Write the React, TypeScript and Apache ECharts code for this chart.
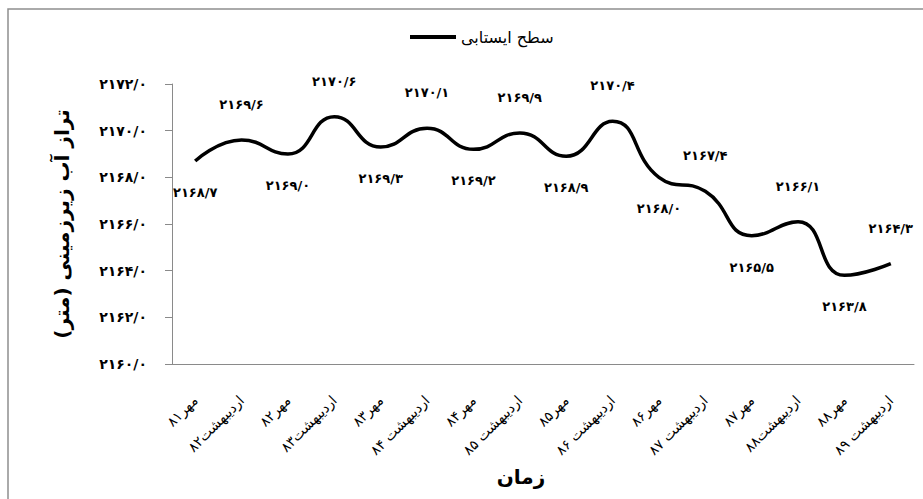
import React, { useEffect, useRef } from "react";
import * as echarts from "echarts";

// Survey dates (Mehr / Ordibehesht campaigns)
const categories = [
  "مهر۸۱",
  "اردیبهشت۸۲",
  "مهر۸۲",
  "اردیبهشت۸۳",
  "مهر۸۳",
  "اردیبهشت ۸۴",
  "مهر۸۴",
  "اردیبهشت ۸۵",
  "مهر۸۵",
  "اردیبهشت ۸۶",
  "مهر۸۶",
  "اردیبهشت ۸۷",
  "مهر۸۷",
  "اردیبهشت۸۸",
  "مهر۸۸",
  "اردیبهشت ۸۹",
];

// Groundwater level (m)
const waterLevel = [
  2168.7, 2169.6, 2169.0, 2170.6, 2169.3, 2170.1, 2169.2, 2169.9, 2168.9,
  2170.4, 2168.0, 2167.4, 2165.5, 2166.1, 2163.8, 2164.3,
];

const seriesName = "سطح ایستابی";
const yAxisTitle = "تراز آب زیرزمینی (متر)";
const xAxisTitle = "زمان";

const yMin = 2160;
const yMax = 2172;
const yStep = 2;

const FA_DIGITS = ["۰", "۱", "۲", "۳", "۴", "۵", "۶", "۷", "۸", "۹"];
const toPersian = (v: number) =>
  v
    .toFixed(1)
    .replace(".", "/")
    .replace(/[0-9]/g, (d) => FA_DIGITS[Number(d)]);

const FONT = "'DejaVu Sans', sans-serif";

export default function App() {
  const ref = useRef<HTMLDivElement>(null);

  useEffect(() => {
    if (!ref.current) return;
    const chart = echarts.init(ref.current, undefined, { renderer: "svg" });

    // value labels alternate below / above the curve
    const data = waterLevel.map((v, i) => ({
      value: v,
      label:
        i % 2 === 0
          ? { show: true, position: "bottom" as const, distance: 25 }
          : { show: true, position: "top" as const, distance: 29 },
    }));

    chart.setOption({
      animation: false,
      backgroundColor: "#ffffff",
      textStyle: { fontFamily: FONT },
      graphic: [
        {
          type: "rect",
          shape: { x: 8, y: 9, width: 1000, height: 600 },
          style: { fill: "none", stroke: "#8e8e8e", lineWidth: 1.5 },
          silent: true,
        },
      ],
      legend: {
        left: 405,
        top: 24,
        icon: "rect",
        itemWidth: 46,
        itemHeight: 4,
        itemGap: 6,
        textStyle: { fontFamily: FONT, fontSize: 16, color: "#000" },
        data: [seriesName],
      },
      grid: { left: 172, right: 9, top: 84, bottom: 135, containLabel: false },
      xAxis: {
        type: "category",
        data: categories,
        boundaryGap: true,
        axisLine: { lineStyle: { color: "#8a8a8a", width: 1 } },
        axisTick: { show: false },
        axisLabel: {
          rotate: 45,
          interval: 0,
          margin: 34,
          fontFamily: FONT,
          fontSize: 14,
          color: "#000",
        },
        name: xAxisTitle,
        nameLocation: "middle",
        nameGap: 103,
        nameTextStyle: {
          fontFamily: FONT,
          fontSize: 20,
          fontWeight: "bold",
          color: "#000",
          padding: [0, 44, 0, 0],
        },
      },
      yAxis: {
        type: "value",
        min: yMin,
        max: yMax,
        interval: yStep,
        axisLine: { show: true, lineStyle: { color: "#8a8a8a", width: 1 } },
        axisTick: { show: true, length: 7, lineStyle: { color: "#8a8a8a" } },
        splitLine: { show: false },
        axisLabel: {
          margin: 25,
          fontFamily: FONT,
          fontSize: 14,
          fontWeight: "bold",
          color: "#000",
          formatter: (v: number) => toPersian(v),
        },
        name: yAxisTitle,
        nameLocation: "middle",
        nameGap: 100,
        nameRotate: 90,
        nameTextStyle: {
          fontFamily: FONT,
          fontSize: 20,
          fontWeight: "bold",
          color: "#000",
        },
      },
      series: [
        {
          name: seriesName,
          type: "line",
          data,
          smooth: 0.5,
          showSymbol: true,
          symbol: "circle",
          symbolSize: 0,
          lineStyle: { color: "#000", width: 3.5 },
          itemStyle: { color: "#000" },
          label: {
            show: true,
            fontFamily: FONT,
            fontSize: 13,
            fontWeight: "bold",
            color: "#000",
            formatter: (p: any) => toPersian(p.value),
          },
          labelLayout: { hideOverlap: false },
        },
      ],
    });

    return () => chart.dispose();
  }, []);

  return (
    <div
      ref={ref}
      style={{ position: "absolute", left: 0, top: 0, width: 923, height: 499 }}
    />
  );
}
